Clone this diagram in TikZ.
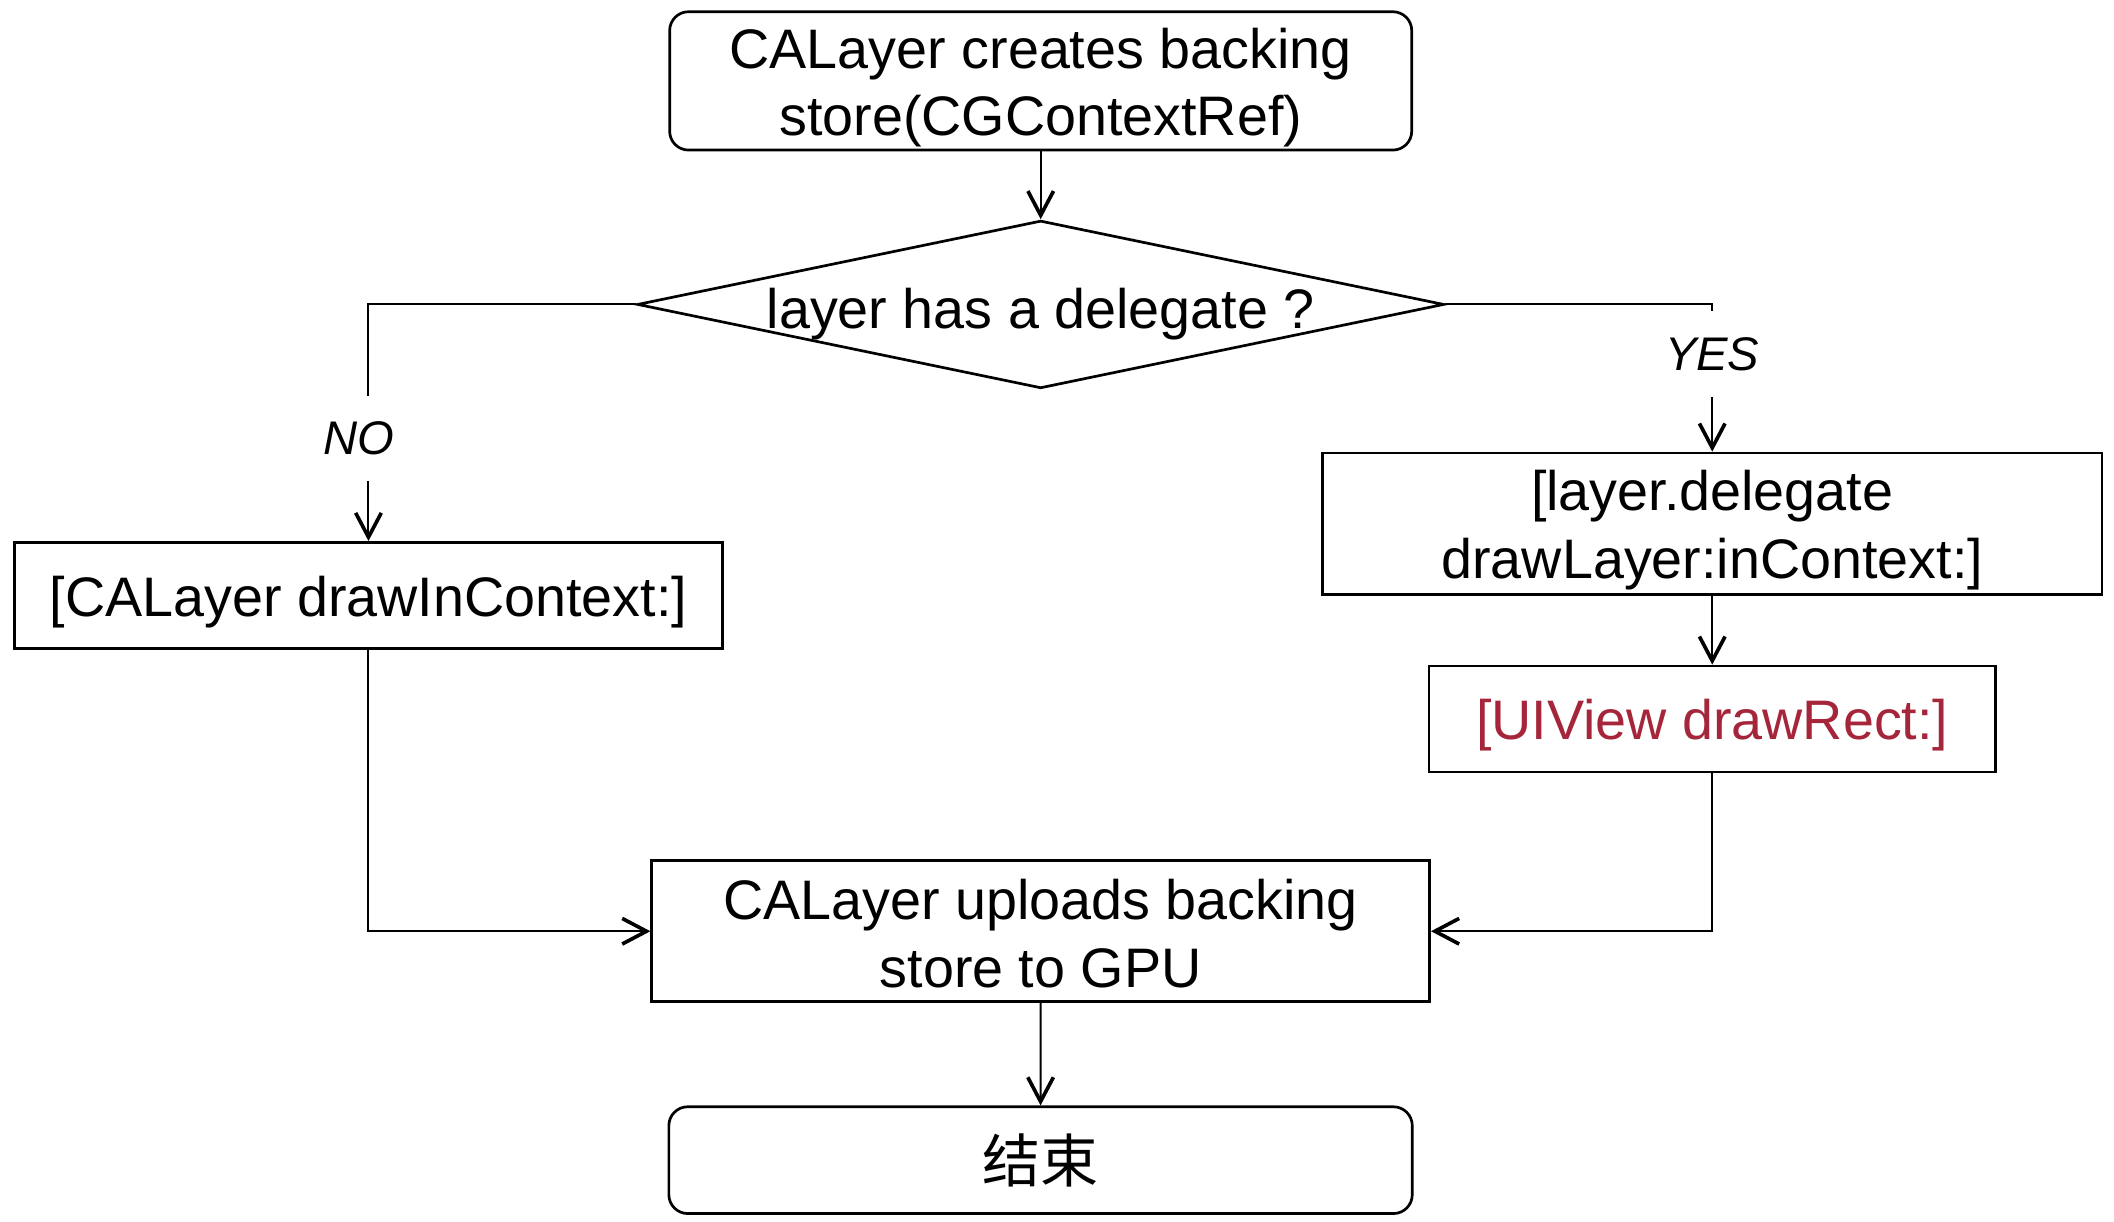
\documentclass[tikz,border=0pt]{standalone}
\usepackage{fontspec}
\setmainfont{Liberation Sans}
\newfontfamily\cjkfont{Noto Sans CJK SC}
\usetikzlibrary{shapes.geometric,arrows.meta}
\definecolor{drawred}{RGB}{165,38,58}
\newcommand{\mystrut}{\rule[-0.17em]{0pt}{1.13em}}
\begin{document}
\begin{tikzpicture}[x=0.5pt,y=-0.5pt,
  every node/.style={font=\fontsize{20.65pt}{24pt}\selectfont},
  boxnode/.style={draw, line width=1pt, inner sep=0pt, align=center},
  roundbox/.style={boxnode, rounded corners=7pt},
  decnode/.style={draw, line width=1pt, diamond, inner sep=0pt},
  lab/.style={inner sep=0pt, font=\fontsize{17.5pt}{20pt}\selectfont\itshape},
  conn/.style={line width=0.75pt},
  arr/.style={conn, -{Straight Barb[length=9pt,width=9.5pt,line width=1.35pt]}}
]
\useasboundingbox (0,0) rectangle (1568,906);

\node[roundbox, minimum width=275.2pt, minimum height=51.3pt] (top) at (771.9,60)
  {\mystrut CALayer creates backing\\\mystrut store(CGContextRef)};
\node[decnode, minimum width=299.2pt, minimum height=62.2pt,
  label={[yshift=-1.1pt]center:\mystrut layer has a delegate ?}] (dec) at (771.9,225.8) {};
\node[boxnode, minimum width=262.5pt, minimum height=39.3pt] (lb) at (273.3,441.6)
  {\mystrut [CALayer drawInContext:]};
\node[boxnode, minimum width=289pt, minimum height=52.5pt] (r1) at (1270,388.5)
  {\mystrut [layer.delegate\\\mystrut drawLayer:inContext:]};
\node[boxnode, minimum width=210pt, minimum height=39.3pt, text=drawred] (r2) at (1270,533.3)
  {\mystrut [UIView drawRect:]};
\node[boxnode, minimum width=288.5pt, minimum height=52.3pt] (bot) at (771.9,690.7)
  {\mystrut CALayer uploads backing\\\mystrut store to GPU};
\node[roundbox, minimum width=275.7pt, minimum height=39.6pt] (end) at (771.8,860.5)
  {\cjkfont\fontsize{21.5pt}{24pt}\selectfont 结束};

\node[lab, minimum height=31pt] (no) at (273.3,325) {NO\kern7pt};
\node[lab, minimum height=31.5pt] (yes) at (1270,262.5) {YES};

\draw[arr] (top.south) -- (dec.north);
\draw[conn] (dec.west) -| (no.north);
\draw[arr] (no.south) -- (lb.north);
\draw[conn] (dec.east) -| (yes.north);
\draw[arr] (yes.south) -- (r1.north);
\draw[arr] (r1.south) -- (r2.north);
\draw[arr] (lb.south) |- (bot.west);
\draw[arr] (r2.south) |- (bot.east);
\draw[arr] (bot.south) -- (end.north);
\end{tikzpicture}
\end{document}
